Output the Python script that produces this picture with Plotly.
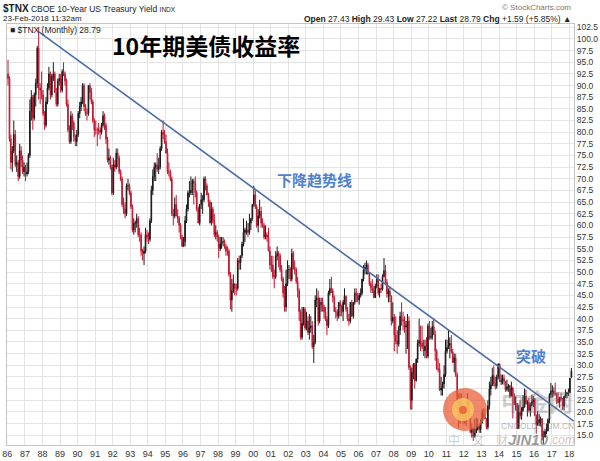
import pandas as pd
import plotly.graph_objects as go

# ---------------- data (yield x10, monthly bars Jan-1986 .. Feb-2018) ----------------
opens = [
    92.5, 91.5, 78.5, 73.5, 76.0, 79.5, 73.0, 73.5, 70.5, 76.0, 74.0, 71.5,  # 1986
    72.5, 71.0, 71.5, 75.0, 84.5, 87.5, 83.0, 88.0, 90.5, 98.0, 89.5, 89.0,  # 1987
    88.0, 84.0, 81.5, 86.5, 89.5, 92.5, 88.0, 92.0, 92.5, 88.5, 86.0, 91.0,  # 1988
    91.5, 89.0, 93.0, 92.5, 91.0, 86.0, 80.5, 78.0, 83.5, 82.0, 79.0, 78.0,  # 1989
    79.5, 84.0, 85.5, 86.5, 90.0, 85.5, 84.0, 84.0, 90.0, 88.5, 86.5, 82.5,  # 1990
    80.5, 80.5, 80.5, 80.5, 80.0, 81.5, 83.5, 81.5, 78.5, 74.0, 74.5, 72.5,  # 1991
    67.0, 73.0, 72.5, 75.5, 74.5, 71.5, 70.0, 64.5, 63.5, 62.5, 68.5, 68.5,  # 1992
    67.0, 64.0, 59.0, 60.5, 60.5, 61.5, 58.0, 58.0, 54.5, 54.0, 54.5, 58.0,  # 1993
    57.5, 57.0, 61.0, 67.5, 70.5, 72.5, 73.0, 72.0, 72.5, 76.5, 80.0, 79.5,  # 1994
    78.0, 75.5, 71.5, 71.5, 70.0, 62.5, 62.0, 64.5, 62.0, 61.5, 60.0, 57.5,  # 1995
    55.5, 56.5, 61.0, 63.5, 67.0, 67.0, 67.5, 69.5, 69.0, 67.0, 63.5, 60.5,  # 1996
    64.5, 65.5, 65.5, 70.0, 68.5, 66.5, 65.0, 60.5, 63.5, 61.0, 58.0, 58.5,  # 1997
    57.5, 55.0, 56.0, 56.5, 56.5, 55.5, 54.5, 54.5, 49.5, 44.0, 46.0, 47.5,  # 1998
    46.5, 46.5, 52.5, 52.0, 53.5, 56.0, 58.5, 59.0, 59.0, 58.5, 60.5, 61.5,  # 1999
    64.5, 66.5, 64.0, 60.0, 62.0, 63.0, 60.5, 60.0, 57.5, 58.0, 57.5, 54.5,  # 2000
    51.5, 51.5, 49.0, 49.0, 53.5, 54.0, 53.5, 50.5, 48.5, 45.5, 42.5, 47.5,  # 2001
    50.5, 50.5, 48.5, 54.0, 51.0, 50.5, 48.0, 46.0, 41.5, 36.0, 39.0, 42.0,  # 2002
    38.0, 39.5, 37.0, 38.0, 38.5, 34.0, 35.0, 44.0, 44.5, 39.5, 43.0, 43.5,  # 2003
    42.5, 41.5, 39.8, 38.5, 45.5, 46.5, 46.0, 44.5, 41.5, 41.5, 40.5, 43.5,  # 2004
    42.5, 41.5, 43.5, 44.8, 42.0, 40.0, 39.5, 43.5, 40.5, 43.5, 45.5, 45.0,  # 2005
    44.0, 45.0, 45.5, 48.5, 50.5, 51.0, 51.5, 49.5, 47.5, 46.5, 46.0, 44.5,  # 2006
    47.0, 48.5, 45.5, 46.5, 46.3, 49.0, 50.3, 47.8, 45.3, 45.9, 44.8, 39.5,  # 2007
    40.3, 36.5, 35.2, 34.5, 37.5, 40.5, 39.8, 39.5, 38.2, 38.5, 39.5, 29.5,  # 2008
    22.5, 28.5, 30.2, 26.7, 31.3, 34.7, 35.3, 34.8, 34.0, 33.1, 34.1, 32.0,  # 2009
    38.4, 36.0, 36.1, 38.3, 36.6, 33.1, 29.3, 29.1, 24.7, 25.1, 26.0, 28.0,  # 2010
    33.0, 33.8, 34.3, 34.7, 32.9, 30.6, 31.6, 27.9, 22.2, 19.2, 21.1, 20.7,  # 2011
    18.8, 17.9, 19.8, 22.1, 19.2, 15.6, 16.5, 14.7, 15.5, 16.3, 16.9, 16.2,  # 2012
    17.6, 19.9, 18.9, 18.5, 16.7, 21.3, 24.9, 25.8, 27.8, 26.1, 25.5, 27.5,  # 2013
    30.3, 26.5, 26.6, 27.2, 26.5, 24.8, 25.3, 25.6, 23.4, 25.1, 23.4, 21.6,  # 2014
    21.7, 16.4, 19.9, 19.2, 20.3, 21.1, 23.4, 21.8, 22.0, 20.3, 21.4, 22.1,  # 2015
    22.7, 19.2, 17.3, 17.7, 18.3, 18.5, 14.7, 14.6, 15.8, 16.0, 18.3, 23.7,  # 2016
    24.5, 24.5, 23.9, 23.9, 22.8, 22.0, 23.1, 22.9, 21.2, 23.3, 23.8, 24.1,  # 2017
    24.1, 27.43,                                                             # 2018
]
highs = [
    95.5, 92.0, 79.5, 77.0, 82.5, 80.5, 75.0, 74.0, 77.5, 77.0, 75.0, 73.5,
    73.0, 73.5, 75.5, 87.0, 89.0, 88.0, 88.5, 91.5, 98.5, 102.5, 90.5, 93.0,
    89.0, 84.5, 87.5, 90.5, 94.0, 93.0, 92.5, 95.0, 93.0, 89.5, 91.5, 92.5,
    92.5, 93.5, 95.0, 93.0, 91.5, 87.0, 81.5, 84.5, 84.0, 82.5, 79.5, 80.5,
    84.5, 86.5, 87.5, 90.5, 90.5, 86.0, 85.0, 90.0, 90.5, 89.5, 87.0, 83.0,
    82.5, 81.0, 82.0, 81.0, 82.0, 84.5, 84.0, 82.0, 79.0, 76.5, 75.0, 73.0,
    74.5, 74.0, 76.5, 76.5, 75.0, 72.0, 70.5, 66.0, 65.0, 69.0, 70.0, 69.0,
    67.5, 64.5, 61.5, 61.0, 62.5, 62.0, 59.5, 58.5, 55.0, 55.5, 59.5, 59.0,
    58.5, 61.5, 68.5, 72.0, 73.5, 73.5, 75.5, 74.5, 77.0, 80.5, 82.5, 80.5,
    79.5, 76.5, 73.5, 72.0, 70.5, 63.5, 66.0, 66.5, 63.5, 62.0, 60.5, 58.0,
    57.5, 62.0, 64.5, 67.5, 69.5, 70.5, 70.0, 70.0, 70.5, 67.5, 64.0, 64.5,
    67.0, 66.5, 70.5, 70.5, 69.0, 67.0, 65.5, 65.0, 64.0, 62.5, 60.0, 59.0,
    58.0, 57.5, 57.5, 57.5, 57.0, 56.0, 55.5, 55.0, 50.0, 48.5, 49.5, 47.5,
    47.5, 53.0, 53.5, 53.5, 56.5, 61.5, 59.5, 61.0, 60.5, 62.5, 61.5, 64.5,
    68.5, 67.5, 64.5, 63.5, 65.5, 64.0, 61.5, 60.5, 60.0, 58.5, 59.5, 55.5,
    53.5, 53.5, 50.5, 54.5, 55.5, 54.5, 54.0, 51.5, 49.0, 47.0, 50.5, 52.5,
    51.5, 51.0, 55.0, 54.5, 52.5, 51.0, 49.0, 46.5, 42.0, 42.5, 42.5, 42.5,
    41.5, 40.5, 41.0, 40.5, 39.5, 36.5, 45.0, 46.5, 46.0, 44.5, 44.5, 44.5,
    43.0, 42.5, 40.5, 46.0, 48.5, 49.0, 46.5, 45.0, 42.5, 42.0, 43.5, 44.0,
    43.0, 44.0, 46.5, 45.0, 42.5, 41.0, 43.5, 44.0, 43.5, 46.5, 46.5, 45.5,
    45.5, 46.5, 48.5, 51.5, 52.0, 52.5, 52.0, 50.0, 48.0, 48.5, 47.0, 47.5,
    49.5, 49.5, 46.5, 47.5, 49.5, 53.0, 51.5, 48.5, 46.5, 47.0, 45.0, 43.5,
    41.0, 40.5, 37.5, 38.5, 41.5, 43.5, 41.5, 40.5, 39.5, 41.0, 40.5, 30.0,
    29.5, 30.5, 30.5, 31.5, 35.5, 40.0, 38.5, 38.5, 35.5, 35.5, 36.0, 39.0,
    39.5, 38.0, 39.5, 40.0, 37.5, 33.5, 31.5, 30.5, 27.5, 26.5, 30.0, 35.5,
    35.5, 37.5, 36.0, 36.5, 33.5, 32.5, 32.5, 28.5, 24.0, 24.0, 24.0, 21.5,
    20.5, 21.0, 24.0, 22.5, 19.5, 17.5, 16.5, 18.5, 18.8, 18.5, 17.5, 18.5,
    20.5, 20.8, 20.7, 18.6, 22.5, 26.5, 27.5, 29.5, 30.0, 27.5, 28.0, 30.4,
    30.4, 28.0, 28.0, 28.0, 26.6, 26.9, 26.0, 25.8, 26.5, 25.4, 24.0, 23.3,
    21.9, 21.5, 22.5, 21.0, 23.6, 25.0, 24.8, 22.5, 23.0, 22.0, 23.7, 23.4,
    23.0, 19.5, 20.2, 19.6, 19.0, 18.7, 16.0, 16.3, 17.5, 18.6, 24.0, 26.2,
    25.7, 25.3, 26.3, 24.1, 24.2, 23.1, 24.0, 23.0, 23.5, 24.8, 24.3, 25.0,
    27.3, 29.43,
]
lows = [
    90.0, 78.0, 72.0, 71.5, 75.5, 72.5, 71.5, 69.5, 70.0, 72.5, 71.0, 70.5,
    69.5, 70.5, 71.0, 74.5, 82.5, 80.5, 82.5, 85.5, 89.5, 87.0, 86.0, 87.0,
    83.5, 80.5, 81.0, 86.0, 89.0, 87.0, 87.5, 91.0, 88.5, 85.5, 85.5, 90.0,
    88.5, 88.5, 92.0, 90.0, 85.5, 80.0, 77.5, 77.5, 80.5, 78.0, 77.0, 77.0,
    79.0, 83.0, 84.5, 86.0, 84.5, 83.5, 82.5, 83.5, 87.0, 86.0, 82.0, 79.0,
    79.5, 77.0, 79.5, 78.5, 79.5, 81.0, 80.5, 77.5, 73.5, 73.0, 72.0, 66.5,
    66.5, 71.5, 72.0, 72.5, 71.0, 69.5, 64.0, 62.5, 61.5, 62.0, 67.5, 66.5,
    63.5, 58.5, 58.0, 58.5, 59.5, 57.5, 56.5, 53.5, 52.5, 51.5, 54.0, 56.5,
    56.0, 56.5, 60.5, 66.5, 69.5, 69.5, 71.5, 71.0, 72.0, 76.0, 78.5, 77.5,
    75.5, 71.0, 70.5, 69.5, 62.0, 60.0, 61.5, 62.0, 60.5, 58.5, 57.0, 55.5,
    55.5, 55.5, 60.5, 63.0, 66.0, 66.5, 66.5, 64.5, 66.0, 63.0, 60.5, 60.0,
    63.5, 62.5, 65.0, 67.5, 66.5, 64.0, 60.5, 60.0, 60.5, 57.5, 57.0, 56.5,
    53.0, 54.5, 55.0, 55.5, 55.0, 53.5, 53.5, 49.0, 42.0, 41.5, 45.5, 45.0,
    45.0, 46.0, 50.5, 50.5, 53.0, 55.5, 56.5, 58.0, 57.5, 58.0, 59.0, 61.0,
    64.0, 63.5, 59.5, 58.5, 61.5, 59.5, 59.5, 57.0, 57.0, 56.5, 54.5, 50.5,
    50.0, 48.5, 46.5, 48.5, 52.5, 51.0, 50.0, 48.0, 44.5, 41.5, 41.5, 47.0,
    48.5, 48.0, 48.0, 50.5, 49.5, 47.5, 44.5, 39.5, 35.5, 35.5, 38.5, 37.5,
    37.5, 36.5, 35.5, 37.0, 33.5, 30.5, 34.5, 42.5, 38.5, 39.0, 41.5, 41.5,
    40.0, 39.5, 36.5, 38.0, 45.0, 45.5, 43.5, 41.5, 40.0, 39.5, 40.0, 40.5,
    40.5, 39.5, 43.0, 41.5, 39.5, 38.5, 39.0, 40.5, 40.0, 43.0, 43.5, 43.5,
    43.0, 44.5, 45.0, 48.0, 49.5, 49.5, 49.5, 47.0, 45.5, 45.5, 44.5, 44.5,
    46.5, 45.0, 44.5, 45.5, 46.0, 49.0, 47.5, 44.5, 43.5, 43.5, 38.5, 39.0,
    33.0, 34.5, 32.5, 34.0, 36.5, 38.5, 37.5, 37.0, 32.5, 33.5, 29.0, 20.5,
    20.5, 27.0, 25.0, 26.5, 30.5, 34.0, 33.0, 33.5, 32.0, 31.5, 31.5, 31.5,
    35.5, 35.5, 35.5, 36.5, 31.0, 29.0, 28.5, 24.5, 23.5, 23.5, 25.0, 27.5,
    32.5, 33.5, 31.5, 32.5, 30.5, 28.5, 27.5, 20.5, 16.5, 17.5, 19.0, 17.5,
    17.5, 17.0, 19.5, 19.0, 15.5, 14.5, 13.8, 14.5, 15.5, 16.0, 15.5, 15.5,
    17.5, 18.5, 18.5, 16.3, 16.2, 20.5, 23.5, 25.5, 25.5, 24.8, 25.0, 27.0,
    26.5, 25.8, 25.9, 25.8, 24.3, 24.4, 24.3, 22.9, 23.3, 18.6, 21.5, 20.3,
    16.4, 16.4, 18.5, 18.3, 20.0, 20.9, 21.5, 19.0, 20.0, 19.0, 21.2, 21.0,
    19.2, 15.3, 17.0, 16.9, 16.9, 14.0, 13.2, 14.5, 15.2, 15.8, 17.6, 23.0,
    23.1, 23.3, 23.5, 21.7, 21.9, 20.9, 22.4, 20.4, 20.3, 23.0, 22.9, 23.4,
    24.1, 27.22,
]
closes = [
    91.5, 78.5, 73.5, 76.0, 79.5, 73.0, 73.5, 70.5, 76.0, 74.0, 71.5, 72.5,
    71.0, 71.5, 75.0, 84.5, 87.5, 83.0, 88.0, 90.5, 98.0, 89.5, 89.0, 88.0,
    84.0, 81.5, 86.5, 89.5, 92.5, 88.0, 92.0, 92.5, 88.5, 86.0, 91.0, 91.5,
    89.0, 93.0, 92.5, 91.0, 86.0, 80.5, 78.0, 83.5, 82.0, 79.0, 78.0, 79.5,
    84.0, 85.5, 86.5, 90.0, 85.5, 84.0, 84.0, 90.0, 88.5, 86.5, 82.5, 80.5,
    80.5, 80.5, 80.5, 80.0, 81.5, 83.5, 81.5, 78.5, 74.0, 74.5, 72.5, 67.0,
    73.0, 72.5, 75.5, 74.5, 71.5, 70.0, 64.5, 63.5, 62.5, 68.5, 68.5, 67.0,
    64.0, 59.0, 60.5, 60.5, 61.5, 58.0, 58.0, 54.5, 54.0, 54.5, 58.0, 57.5,
    57.0, 61.0, 67.5, 70.5, 72.5, 73.0, 72.0, 72.5, 76.5, 80.0, 79.5, 78.0,
    75.5, 71.5, 71.5, 70.0, 62.5, 62.0, 64.5, 62.0, 61.5, 60.0, 57.5, 55.5,
    56.5, 61.0, 63.5, 67.0, 67.0, 67.5, 69.5, 69.0, 67.0, 63.5, 60.5, 64.5,
    65.5, 65.5, 70.0, 68.5, 66.5, 65.0, 60.5, 63.5, 61.0, 58.0, 58.5, 57.5,
    55.0, 56.0, 56.5, 56.5, 55.5, 54.5, 54.5, 49.5, 44.0, 46.0, 47.5, 46.5,
    46.5, 52.5, 52.0, 53.5, 56.0, 58.5, 59.0, 59.0, 58.5, 60.5, 61.5, 64.5,
    66.5, 64.0, 60.0, 62.0, 63.0, 60.5, 60.0, 57.5, 58.0, 57.5, 54.5, 51.5,
    51.5, 49.0, 49.0, 53.5, 54.0, 53.5, 50.5, 48.5, 45.5, 42.5, 47.5, 50.5,
    50.5, 48.5, 54.0, 51.0, 50.5, 48.0, 46.0, 41.5, 36.0, 39.0, 42.0, 38.0,
    39.5, 37.0, 38.0, 38.5, 34.0, 35.0, 44.0, 44.5, 39.5, 43.0, 43.5, 42.5,
    41.5, 39.8, 38.5, 45.5, 46.5, 46.0, 44.5, 41.5, 41.5, 40.5, 43.5, 42.5,
    41.5, 43.5, 44.8, 42.0, 40.0, 39.5, 43.5, 40.5, 43.5, 45.5, 45.0, 44.0,
    45.0, 45.5, 48.5, 50.5, 51.0, 51.5, 49.5, 47.5, 46.5, 46.0, 44.5, 47.0,
    48.5, 45.5, 46.5, 46.3, 49.0, 50.3, 47.8, 45.3, 45.9, 44.8, 39.5, 40.3,
    36.5, 35.2, 34.5, 37.5, 40.5, 39.8, 39.5, 38.2, 38.5, 39.5, 29.5, 22.5,
    28.5, 30.2, 26.7, 31.3, 34.7, 35.3, 34.8, 34.0, 33.1, 34.1, 32.0, 38.4,
    36.0, 36.1, 38.3, 36.6, 33.1, 29.3, 29.1, 24.7, 25.1, 26.0, 28.0, 33.0,
    33.8, 34.3, 34.7, 32.9, 30.6, 31.6, 27.9, 22.2, 19.2, 21.1, 20.7, 18.8,
    17.9, 19.8, 22.1, 19.2, 15.6, 16.5, 14.7, 15.5, 16.3, 16.9, 16.2, 17.6,
    19.9, 18.9, 18.5, 16.7, 21.3, 24.9, 25.8, 27.8, 26.1, 25.5, 27.5, 30.3,
    26.5, 26.6, 27.2, 26.5, 24.8, 25.3, 25.6, 23.4, 25.1, 23.4, 21.6, 21.7,
    16.4, 19.9, 19.2, 20.3, 21.1, 23.4, 21.8, 22.0, 20.3, 21.4, 22.1, 22.7,
    19.2, 17.3, 17.7, 18.3, 18.5, 14.7, 14.6, 15.8, 16.0, 18.3, 23.7, 24.5,
    24.5, 23.9, 23.9, 22.8, 22.0, 23.1, 22.9, 21.2, 23.3, 23.8, 24.1, 24.1,
    27.2, 28.79,
]
months = pd.date_range("1986-01-01", periods=len(closes), freq="MS") + pd.Timedelta(days=14)

# hand-drawn trend line (annotation)
trend_dates = ["1987-10-20", "2018-04-05"]
trend_values = [101.5, 18.0]

# ---------------- figure ----------------
W, H = 600, 461
L, R, T, B = 7, 574, 24, 445


def px(x):
    return (x - L) / (R - L)


def py(y):
    return (B - y) / (B - T)


fig = go.Figure()
fig.add_trace(go.Candlestick(
    x=months, open=opens, high=highs, low=lows, close=closes,
    increasing=dict(line=dict(color="#1a1a1a", width=1), fillcolor="#1a1a1a"),
    decreasing=dict(line=dict(color="#c4142e", width=1), fillcolor="#dd5a70"),
    whiskerwidth=0, showlegend=False, hoverinfo="skip",
))
fig.add_trace(go.Scatter(
    x=trend_dates, y=trend_values, mode="lines",
    line=dict(color="#4a6ca6", width=1.6), showlegend=False, hoverinfo="skip",
))

BASE = "Arial, Liberation Sans, sans-serif"
CJK = "Noto Sans CJK SC, sans-serif"

ann = []


def add(text, x, y, size, color="#222", xanchor="left", family=BASE, **kw):
    ann.append(dict(text=text, x=px(x), y=py(y), xref="paper", yref="paper",
                    xanchor=xanchor, yanchor="middle", showarrow=False,
                    font=dict(size=size, color=color, family=family), **kw))


# header
add("<span style='font-size:10px'><b>$TNX</b></span> CBOE 10-Year US Treasury Yield "
    "<span style='font-size:6.5px'>INDX</span>", 1, 8, 8.5)
add("23-Feb-2018 11:32am", 1, 18.5, 8)
add("© StockCharts.com", 573, 7.5, 8, color="#777", xanchor="right")
add("<b>Open</b> 27.43 <b>High</b> 29.43 <b>Low</b> 27.22 <b>Last</b> 28.79 "
    "<b>Chg</b> +1.59 (+5.85%) ▲", 573, 18.5, 8.5, xanchor="right")
add("■ $TNX (Monthly) 28.79", 8, 30, 8.5)

# chart annotations
add("<b>10年期美债收益率</b>", 206, 45, 23, color="#000", xanchor="center", family=CJK)
add("<b>下降趋势线</b>", 314, 179, 15, color="#4f7fd2", xanchor="center", family=CJK)
add("<b>突破</b>", 531, 355, 15, color="#4f7fd2", xanchor="center", family=CJK)

# watermarks (kept clear of the axis labels and of each other)
add("<b>中金网</b>", 537, 400, 24, color="rgba(110,110,110,0.35)", xanchor="center", family=CJK)
add("CNGOLD.COM.CN", 537, 426, 8.5, color="rgba(120,120,120,0.55)", xanchor="center")
add("中　文　财", 478, 439, 12, color="rgba(140,140,140,0.45)", xanchor="center", family=CJK)
add("<b><i>JIN10</i></b>", 528, 439, 15, color="rgba(70,70,70,0.55)", xanchor="center")
add("<i>.com</i>", 562, 440, 12, color="rgba(200,140,150,0.6)", xanchor="center")

shapes = [
    dict(type="circle", xref="paper", yref="paper",
         x0=px(443), x1=px(487), y0=py(431), y1=py(388),
         fillcolor="rgba(233,96,58,0.75)", line=dict(width=0), layer="above"),
    dict(type="circle", xref="paper", yref="paper",
         x0=px(452), x1=px(474), y0=py(421), y1=py(398),
         fillcolor="rgba(248,196,96,0.85)", line=dict(width=0), layer="above"),
    dict(type="circle", xref="paper", yref="paper",
         x0=px(459), x1=px(467), y0=py(414), y1=py(406),
         fillcolor="rgba(233,96,58,0.85)", line=dict(width=0), layer="above"),
]

fig.update_layout(
    width=W, height=H,
    margin=dict(l=L, r=W - R, t=T, b=H - B, autoexpand=False),
    paper_bgcolor="white", plot_bgcolor="white",
    font=dict(family=BASE, size=9, color="#333"),
    annotations=ann, shapes=shapes, showlegend=False,
    xaxis=dict(
        type="date", range=["1985-12-25", "2018-04-10"],
        rangeslider=dict(visible=False),
        tickformat="%y", dtick="M12", tick0="1986-01-01",
        showgrid=True, gridcolor="#e4e4e4", gridwidth=1,
        showline=True, mirror=True, linecolor="#c4c4c4", linewidth=1,
        ticks="", tickfont=dict(size=9, color="#333"), automargin=False,
    ),
    yaxis=dict(
        side="right", range=[12.9, 103.2], dtick=2.5, tick0=0, tickformat=".1f",
        showgrid=True, gridcolor="#e4e4e4", gridwidth=1,
        showline=True, mirror=True, linecolor="#c4c4c4", linewidth=1,
        ticks="", tickfont=dict(size=8.5, color="#333"), automargin=False,
        zeroline=False,
    ),
)

fig.write_html("out.html")
